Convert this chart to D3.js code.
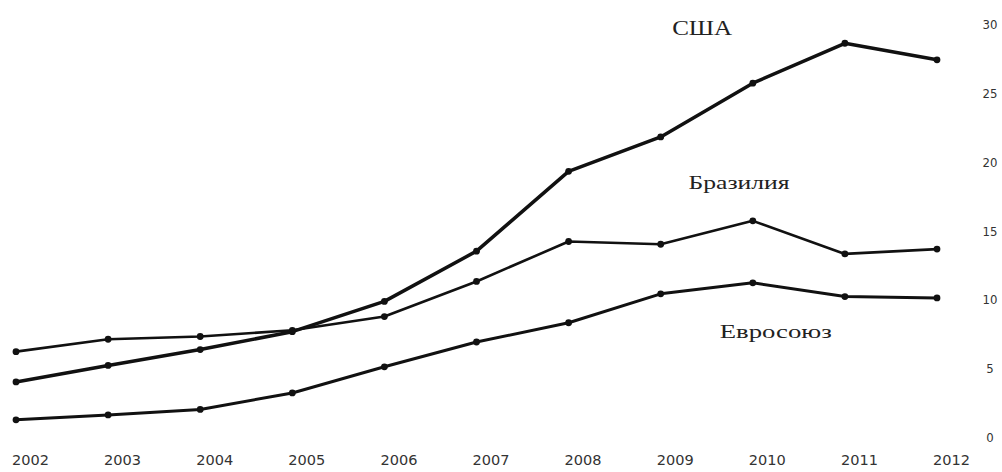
<!DOCTYPE html>
<html>
<head>
<meta charset="utf-8">
<script src="https://cdn.jsdelivr.net/npm/d3@7/dist/d3.min.js"></script>
<style>
  body { margin: 0; background: #fff; }
  svg { display: block; }
</style>
</head>
<body>
<script>
// data
var years = [2002, 2003, 2004, 2005, 2006, 2007, 2008, 2009, 2010, 2011, 2012];
var usa = [4.0, 5.2, 6.35, 7.65, 9.85, 13.5, 19.3, 21.8, 25.7, 28.6, 27.4];
var brazil = [6.2, 7.1, 7.3, 7.75, 8.75, 11.3, 14.2, 14.0, 15.7, 13.3, 13.65];
var eu = [1.25, 1.6, 2.0, 3.2, 5.1, 6.9, 8.3, 10.4, 11.2, 10.2, 10.1];
var yTicks = [0, 5, 10, 15, 20, 25, 30];
var seriesNames = ["США", "Бразилия", "Евросоюз"];

var w = 1002;
var h = 472;

var svg = d3.select("body")
  .append("svg")
  .attr("width", w)
  .attr("height", h);

var x = d3.scaleLinear().domain([2002, 2012]).range([16, 937]);
var y = d3.scaleLinear().domain([0, 30]).range([437, 24]);

// right-hand value axis, no line, no ticks
var yAxis = svg.append("g")
  .attr("transform", "translate(990,0)")
  .call(d3.axisRight(y).tickValues(yTicks).tickSize(0).tickPadding(0));
yAxis.select(".domain").remove();
yAxis.selectAll("text")
  .attr("text-anchor", "middle")
  .attr("dy", "0.35em")
  .attr("fill", "#333")
  .style("font-family", "'DejaVu Sans Condensed', 'Liberation Sans Narrow', sans-serif")
  .style("font-size", "13px");

// years along the bottom
var xAxis = svg.append("g")
  .attr("transform", "translate(14,455)")
  .call(d3.axisBottom(x).tickValues(years).tickFormat(d3.format("d")).tickSize(0).tickPadding(0));
xAxis.select(".domain").remove();
xAxis.selectAll("text")
  .attr("fill", "#333")
  .attr("textLength", 37)
  .attr("lengthAdjust", "spacingAndGlyphs")
  .style("font-family", "'DejaVu Sans Condensed', 'Liberation Sans Narrow', sans-serif")
  .style("font-size", "14px");

var line = d3.line()
  .x(function(d, i) { return x(years[i]); })
  .y(function(d) { return y(d); });

var series = [
  { name: "США", values: usa, width: 3.5 },
  { name: "Бразилия", values: brazil, width: 2.6 },
  { name: "Евросоюз", values: eu, width: 3 }
];

series.forEach(function(s) {
  svg.append("path")
    .datum(s.values)
    .attr("d", line)
    .attr("fill", "none")
    .attr("stroke", "#111")
    .attr("stroke-width", s.width)
    .attr("stroke-linejoin", "round");
  svg.selectAll(null)
    .data(s.values)
    .enter()
    .append("circle")
    .attr("cx", function(d, i) { return x(years[i]); })
    .attr("cy", function(d) { return y(d); })
    .attr("r", 3.4)
    .attr("fill", "#111");
});

// series names placed as in the original
var labels = [
  { text: seriesNames[0], year: 2009.45, value: 29.2, len: 60, size: 21 },
  { text: seriesNames[1], year: 2009.85, value: 18.0, len: 101, size: 19 },
  { text: seriesNames[2], year: 2010.25, value: 7.2, len: 112, size: 19 }
];
svg.selectAll(".name")
  .data(labels)
  .enter()
  .append("text")
  .attr("class", "name")
  .attr("x", function(d) { return x(d.year); })
  .attr("y", function(d) { return y(d.value); })
  .attr("text-anchor", "middle")
  .attr("textLength", function(d) { return d.len; })
  .attr("lengthAdjust", "spacingAndGlyphs")
  .attr("fill", "#222")
  .style("font-family", "'Liberation Serif', 'DejaVu Serif', serif")
  .style("font-size", function(d) { return d.size + "px"; })
  .text(function(d) { return d.text; });
</script>
</body>
</html>
